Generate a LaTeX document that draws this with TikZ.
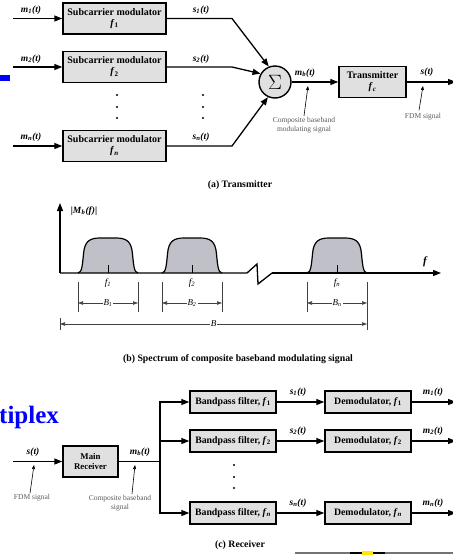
\documentclass[tikz,border=0pt]{standalone}
\usepackage{fontspec}
\setmainfont{Liberation Serif}
\usetikzlibrary{arrows.meta,calc}
\newcommand\sgl[2]{\textbf{\textit{#1}\textsubscript{\textit{#2}}\textit{(t)}}}
\newcommand\fsub[1]{\textit{f}\textsubscript{#1}}
\definecolor{boxgray}{RGB}{224,224,224}
\definecolor{humpgray}{RGB}{192,192,200}
\definecolor{notegray}{RGB}{90,90,90}
\begin{document}
\begin{tikzpicture}[x=1pt,y=-1pt,
  blk/.style={draw, line width=1.4pt, fill=boxgray, align=center, inner sep=0pt,
    font=\bfseries\fontsize{10}{11}\selectfont},
  modbox/.style={blk, minimum width=103pt, minimum height=31pt},
  rxbox/.style={blk, minimum width=86pt, minimum height=22pt, font=\bfseries\fontsize{9.8}{10}\selectfont},
  wire/.style={line width=1.3pt},
  arr/.style={wire, -{Triangle[length=8pt,width=6pt]}},
  ptr/.style={line width=0.6pt, -{Triangle[length=4pt,width=3pt]}},
  note/.style={font=\fontsize{7.5}{9}\selectfont, text=notegray, align=center, inner sep=1pt},
  lbl/.style={font=\fontsize{9.5}{10}\selectfont, inner sep=0pt},
  captext/.style={font=\bfseries\fontsize{9.8}{11}\selectfont, inner sep=0pt},
  dot/.style={circle, fill=black, inner sep=0pt, minimum size=2.4pt},
  dim/.style={line width=0.6pt, draw=black!75},
  dimarr/.style={dim, {Triangle[length=5pt,width=3.5pt]}-{Triangle[length=5pt,width=3.5pt]}}]
\useasboundingbox (0,0) rectangle (453,555);

% ---------------- (a) transmitter ----------------
\node[modbox] (sm1) at (114.5,18.5) {Subcarrier modulator\\\fsub{1}};
\node[modbox] (sm2) at (114.5,67) {Subcarrier modulator\\\fsub{2}};
\node[modbox] (smn) at (114.5,146) {Subcarrier modulator\\\fsub{\textit{n}}};
\coordinate (in1) at (13,18.5);
\coordinate (in2) at (13,67);
\coordinate (inn) at (13,146);
\draw[arr] (in1) -- (sm1.west);
\draw[arr] (in2) -- (sm2.west);
\draw[arr] (inn) -- (smn.west);
\node[lbl] (lm1) at (31,10) {\sgl{m}{1}};
\node[lbl] (lm2) at (31,59) {\sgl{m}{2}};
\node[lbl] (lmn) at (31,137) {\sgl{m}{n}};

\node[draw, circle, line width=1.4pt, fill=boxgray, minimum size=32pt, inner sep=0pt,
  font=\fontsize{21}{21}\selectfont] (sum) at (275,82) {$\Sigma$};
\coordinate (b1) at (232,18.5);
\coordinate (b2) at (232,67);
\coordinate (bn) at (232,146);
\draw[arr] (sm1.east) -- (b1) -- (sum.112);
\draw[arr] (sm2.east) -- (b2) -- (sum.150);
\draw[arr] (smn.east) -- (bn) -- (sum.245);
\node[lbl] (ls1) at (201,10) {\sgl{s}{1}};
\node[lbl] (ls2) at (201,59) {\sgl{s}{2}};
\node[lbl] (lsn) at (201,137) {\sgl{s}{n}};

\foreach \yy in {95,107,118} {
  \node[dot] at (117,\yy) {};
  \node[dot] at (203,\yy) {};
}

\node[blk, minimum width=67pt, minimum height=31pt] (tx) at (372.5,82) {Transmitter\\\fsub{\textit{c}}};
\draw[arr] (sum.east) -- (tx.west);
\node[lbl] (lmb) at (305,73) {\sgl{m}{b}};
\coordinate (txout) at (456,82);
\draw[arr] (tx.east) -- (txout);
\node[lbl] (lst) at (427,72) {\textbf{\textit{s(t)}}};

\node[note] (cb1) at (304,125) {Composite baseband\\modulating signal};
\coordinate (cb1tip) at (308,86);
\draw[ptr] (cb1.north) -- (cb1tip);
\node[note] (fdm1) at (423,117) {FDM signal};
\coordinate (fdm1tip) at (423,86);
\draw[ptr] ($(fdm1.north)+(-4,-2)$) -- (fdm1tip);

\node[captext] (capa) at (240,185) {(a) Transmitter};

% ---------------- (b) spectrum ----------------
\coordinate (org) at (60,273);
\coordinate (yend) at (60,203);
\coordinate (brk1) at (247,273);
\coordinate (brk2) at (272,273);
\coordinate (xend) at (441,273);
\foreach \a in {78,162,307} {
  \begin{scope}[shift={(\a,0)}]
    \draw[line width=1.2pt, fill=humpgray]
      (0,273) .. controls (4,273) and (4.5,264) .. (5.5,254)
      .. controls (6.5,241) and (12,238) .. (22,238) -- (38,238)
      .. controls (48,238) and (53.5,241) .. (54.5,254)
      .. controls (55.5,264) and (56,273) .. (60,273);
    \draw[line width=0.8pt] (30,273) -- (30,265);
  \end{scope}
}
\draw[arr] (org) -- (yend);
\draw[wire] (org) -- (brk1) -- (257,264) -- (258,284) -- (brk2);
\draw[arr] (brk2) -- (xend);
\node[lbl] (lmbf) at (84,211) {\textbf{|\textit{M}\textsubscript{\textit{b}}\textit{(f)}|}};
\node[lbl, font=\bfseries\itshape\fontsize{11}{11}\selectfont] (lf) at (425,262) {f};
\node[lbl, font=\itshape\fontsize{9.5}{9}\selectfont] (lf1) at (108,283) {f\textsubscript{1}};
\node[lbl, font=\itshape\fontsize{9.5}{9}\selectfont] (lf2) at (192,283) {f\textsubscript{2}};
\node[lbl, font=\itshape\fontsize{9.5}{9}\selectfont] (lfn) at (337,283) {f\textsubscript{n}};

% bandwidth markers
\foreach \l/\r/\t in {78/138/1, 162/222/2, 307/367/n} {
  \draw[dim] (\l,282) -- (\l,312);
  \draw[dim] (\r,282) -- (\r,312);
  \draw[dimarr] (\l,303) -- node[fill=white, inner sep=1pt, font=\itshape\fontsize{9}{9}\selectfont] {B\textsubscript{\t}} (\r,303);
}
\draw[dim] (60,318) -- (60,330);
\draw[dim] (367,312) -- (367,330);
\draw[dimarr] (60,324) -- node[fill=white, inner sep=1pt, font=\itshape\fontsize{9}{9}\selectfont] {B} (367,324);

\node[captext] (capb) at (238,359) {(b) Spectrum of composite baseband modulating signal};

% ---------------- (c) receiver ----------------
\node[blk, minimum width=55pt, minimum height=31pt, font=\bfseries\fontsize{8.8}{10.5}\selectfont] (rx) at (90.5,461.5) {Main\\Receiver};
\coordinate (rxin) at (13,461.5);
\draw[arr] (rxin) -- (rx.west);
\node[lbl] (lsr) at (33,452) {\textbf{\textit{s(t)}}};
\node[note] (fdm2) at (32,498) {FDM signal};
\coordinate (fdm2tip) at (34,465);
\draw[ptr] ($(fdm2.north)+(-2,0)$) -- (fdm2tip);

\coordinate (br) at (160,461.5);
\draw[wire] (rx.east) -- (br);
\node[lbl] (lmbr) at (140,452) {\sgl{m}{b}};
\node[note] (cb2) at (120,503) {Composite baseband\\signal};
\coordinate (cb2tip) at (135,465);
\draw[ptr] ($(cb2.north)+(12,0)$) -- (cb2tip);

\node[rxbox] (bp1) at (233,402) {Bandpass filter, \fsub{1}};
\node[rxbox] (bp2) at (233,441) {Bandpass filter, \fsub{2}};
\node[rxbox] (bpn) at (233,513) {Bandpass filter, \fsub{\textit{n}}};
\draw[arr] (br) |- (bp1.west);
\draw[arr] (br) |- (bpn.west);
\draw[arr] (br |- bp2.west) -- (bp2.west);

\node[rxbox] (dm1) at (368,402) {Demodulator, \fsub{1}};
\node[rxbox] (dm2) at (368,441) {Demodulator, \fsub{2}};
\node[rxbox] (dmn) at (368,513) {Demodulator, \fsub{\textit{n}}};
\draw[arr] (bp1.east) -- (dm1.west);
\draw[arr] (bp2.east) -- (dm2.west);
\draw[arr] (bpn.east) -- (dmn.west);
\node[lbl] (lr1) at (298,392) {\sgl{s}{1}};
\node[lbl] (lr2) at (298,431) {\sgl{s}{2}};
\node[lbl] (lrn) at (298,503) {\sgl{s}{n}};

\coordinate (o1) at (456,402);
\coordinate (o2) at (456,441);
\coordinate (on) at (456,513);
\draw[arr] (dm1.east) -- (o1);
\draw[arr] (dm2.east) -- (o2);
\draw[arr] (dmn.east) -- (on);
\node[lbl] (lo1) at (433,392) {\sgl{m}{1}};
\node[lbl] (lo2) at (433,431) {\sgl{m}{2}};
\node[lbl] (lon) at (433,503) {\sgl{m}{n}};

\foreach \yy in {465,477,488} \node[dot] at (234,\yy) {};

\node[captext] (capc) at (240,545) {(c) Receiver};

% slide remnants around the figure
\node[anchor=base west, inner sep=0pt, text=blue, font=\bfseries\fontsize{25}{25}\selectfont] (mux) at (-1,423) {tiplex};
\fill[blue] (0,75) rectangle (10,81);
\draw[line width=1.2pt, black!55] (295,553) -- (453,553);
\draw[line width=1.4pt, black] (350,553) -- (385,553);
\fill[yellow!90!orange] (362,550.5) rectangle (373,555);
\end{tikzpicture}
\end{document}
